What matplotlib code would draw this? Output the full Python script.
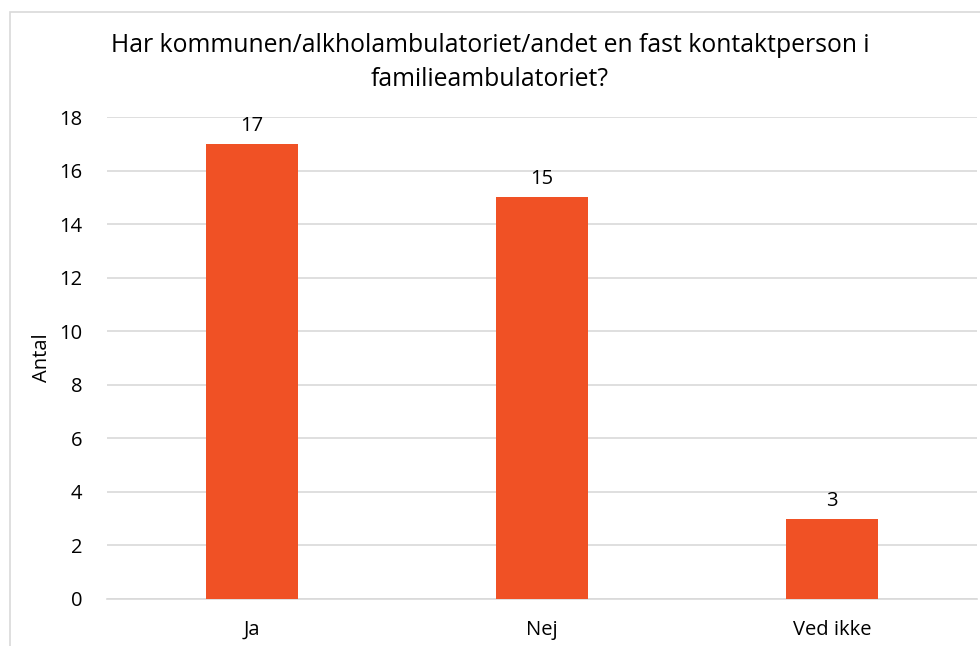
import matplotlib.pyplot as plt
from matplotlib.patches import Rectangle

# data
categories = ['Ja', 'Nej', 'Ved ikke']
antal = [17, 15, 3]
y_ticks = [0, 2, 4, 6, 8, 10, 12, 14, 16, 18]

bar_color = '#F05125'
grid_color = '#D9D9D9'

plt.rcParams['font.family'] = ['Open Sans', 'DejaVu Sans']

fig = plt.figure(figsize=(9.8, 6.46), dpi=100)

# outer chart border (excel-like)
fig.patches.append(Rectangle((10 / 980, -0.1), 1.1, 1 - 12 / 646 + 0.1,
                             transform=fig.transFigure, fill=False,
                             edgecolor=grid_color, linewidth=1.2))

ax = fig.add_axes([107 / 980, 47 / 646, 870 / 980, 482 / 646])

x = range(len(categories))
bars = ax.bar(x, antal, width=0.314, color=bar_color, zorder=3)

ax.set_xlim(-0.5, len(categories) - 0.5)
ax.set_ylim(0, 18)
ax.set_yticks(y_ticks)
ax.set_xticks(list(x))
ax.set_xticklabels(categories, fontsize=14.5)
ax.tick_params(axis='y', labelsize=14.5, length=0, pad=18)
ax.tick_params(axis='x', length=0, pad=15)
ax.yaxis.grid(True, color=grid_color, linewidth=1.2, zorder=0)
for side in ['top', 'right', 'left']:
    ax.spines[side].set_visible(False)
ax.spines['bottom'].set_color(grid_color)
ax.spines['bottom'].set_linewidth(1.2)

for bar, v in zip(bars, antal):
    ax.text(bar.get_x() + bar.get_width() / 2, v + 0.3, str(v),
            ha='center', va='bottom', fontsize=14.5)

ax.set_ylabel('Antal', fontsize=14.5, labelpad=5)

fig.text(0.5, 1 - 45 / 646, 'Har kommunen/alkholambulatoriet/andet en fast kontaktperson i',
         ha='center', va='center', fontsize=17.8)
fig.text(0.5, 1 - 79 / 646, 'familieambulatoriet?', ha='center', va='center', fontsize=17.8)

fig.savefig('out.png', dpi=100)
